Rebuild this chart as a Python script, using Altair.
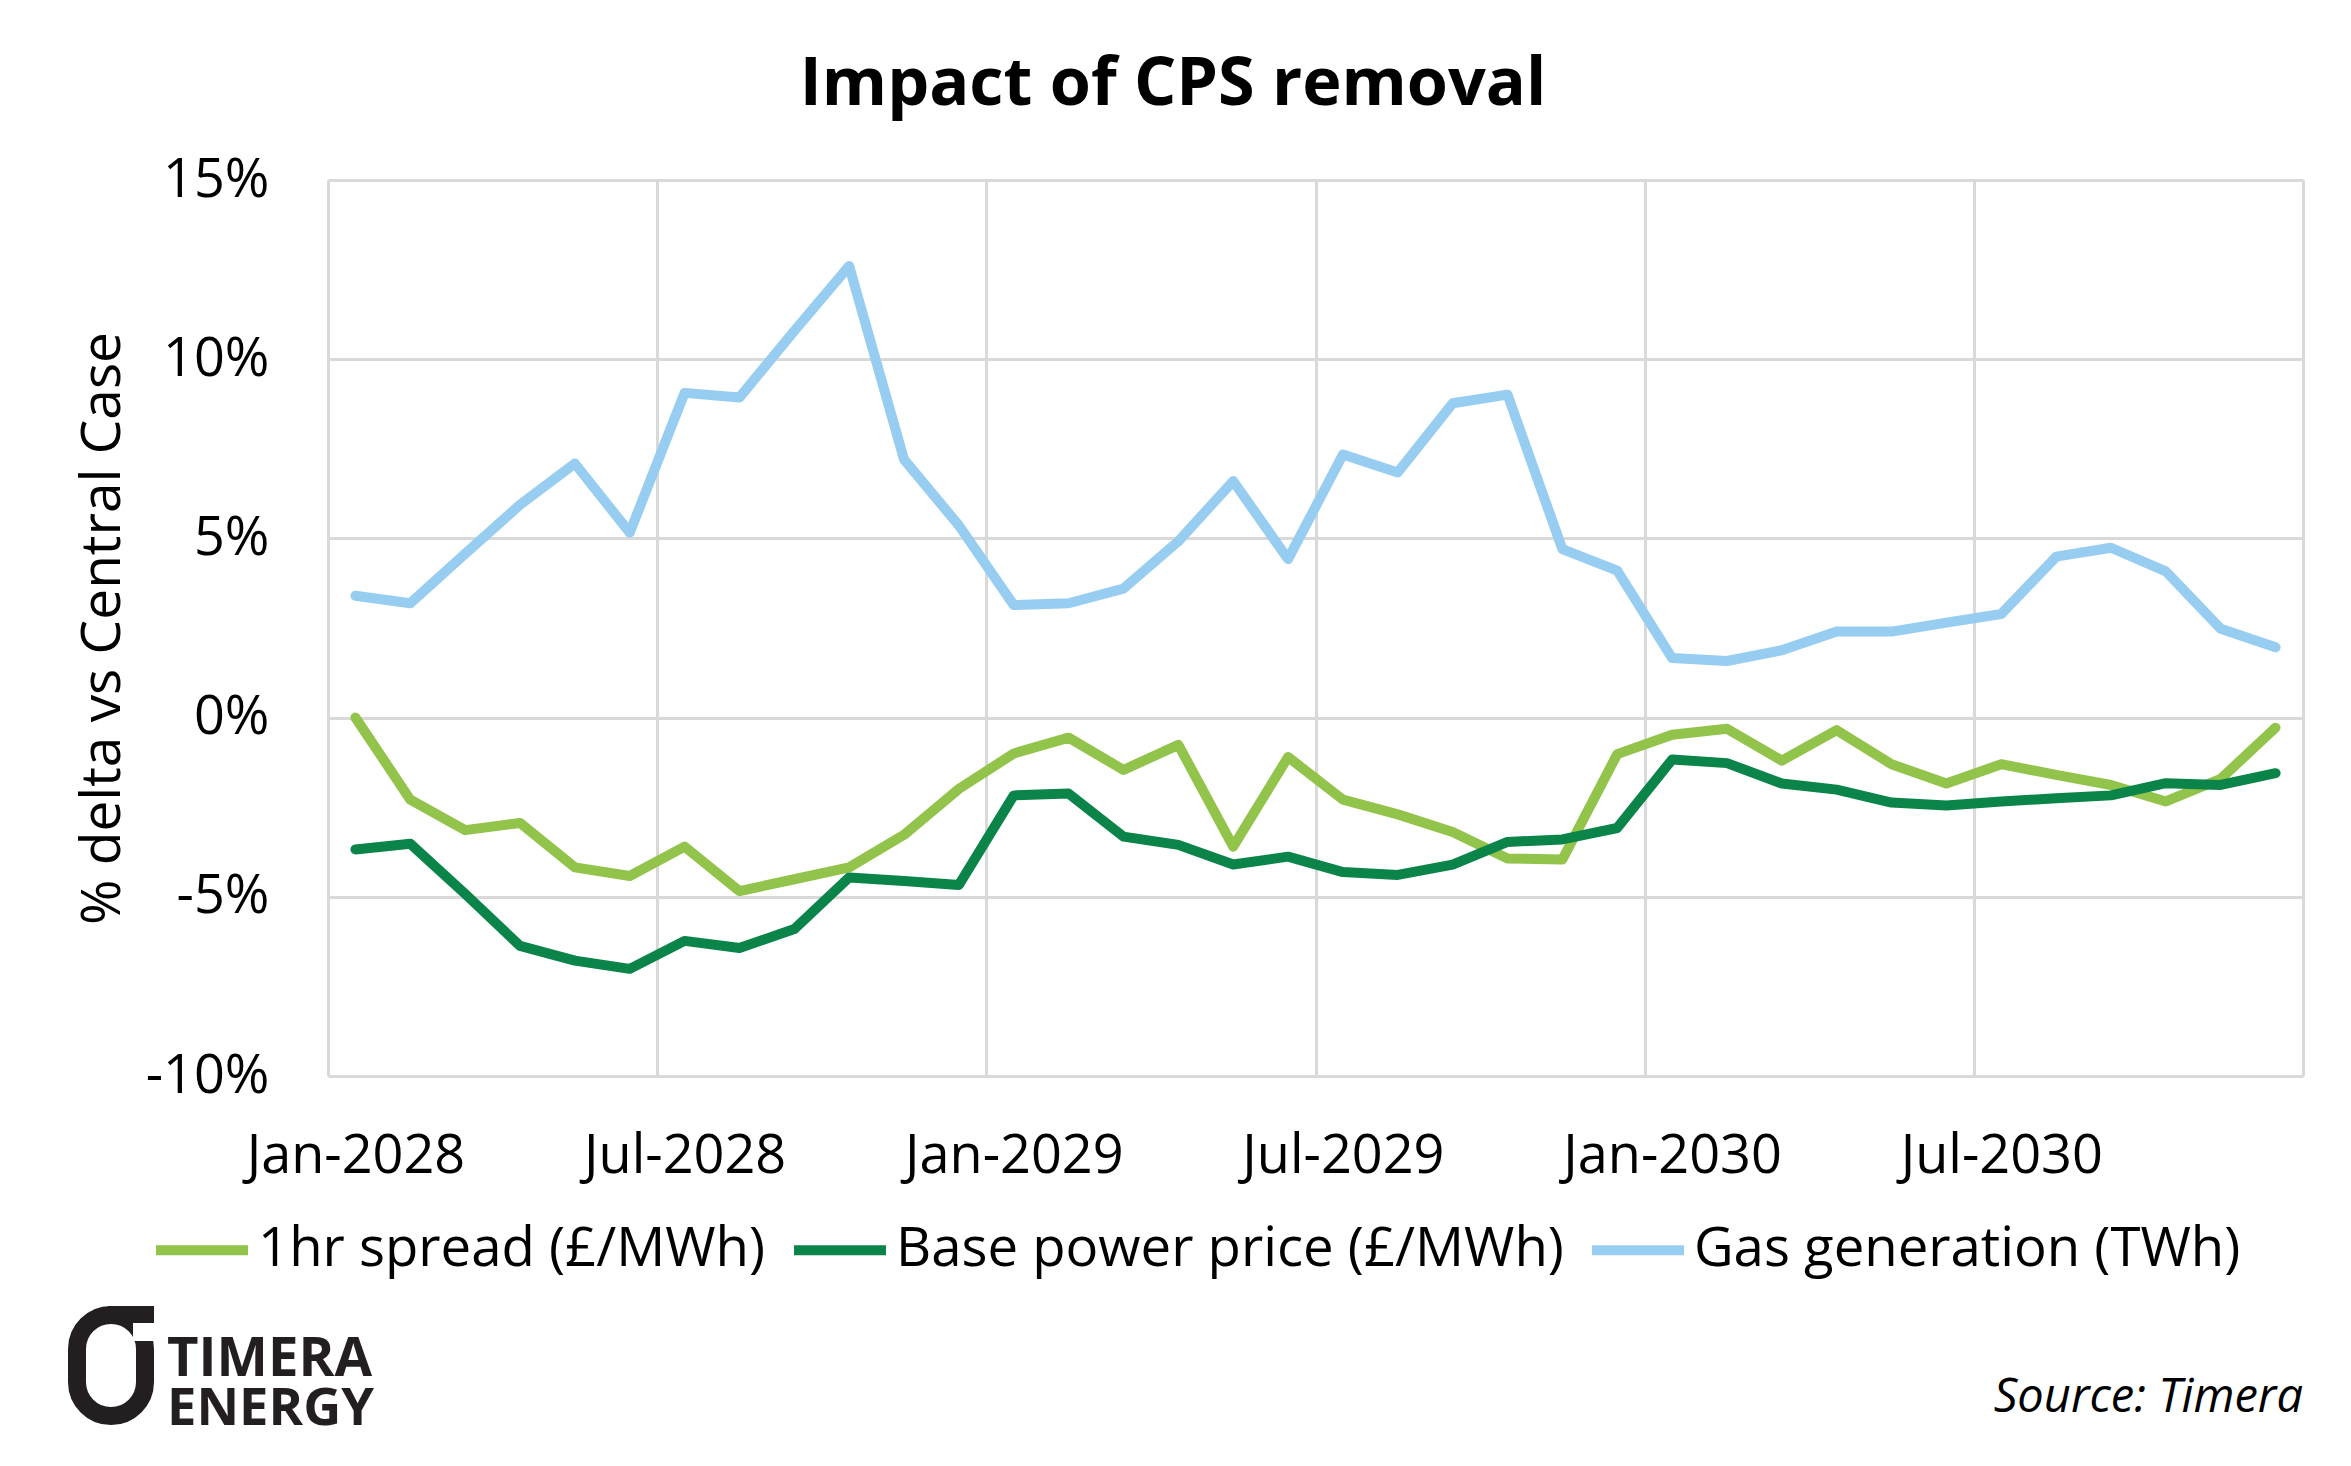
import json
import altair as alt
import pandas as pd

# ---------------- data ----------------
tick_labels = ["Jan-2028", "Jul-2028", "Jan-2029", "Jul-2029", "Jan-2030", "Jul-2030"]
month_names = ["Jan", "Feb", "Mar", "Apr", "May", "Jun", "Jul", "Aug", "Sep", "Oct", "Nov", "Dec"]
years = [2028, 2029, 2030]

series_names = ["1hr spread (£/MWh)", "Base power price (£/MWh)", "Gas generation (TWh)"]
series_colors = ["#92C34B", "#0A8448", "#97CDF0"]

spread = [0.0, -2.29, -3.14, -2.94, -4.18, -4.42, -3.60, -4.84, -4.51, -4.18, -3.27, -1.99,
          -1.00, -0.56, -1.46, -0.76, -3.60, -1.10, -2.29, -2.70, -3.19, -3.93, -3.96, -1.02,
          -0.48, -0.31, -1.20, -0.35, -1.30, -1.84, -1.30, -1.60, -1.88, -2.34, -1.71, -0.28]
base_price = [-3.68, -3.52, -4.92, -6.37, -6.78, -7.01, -6.23, -6.43, -5.90, -4.46, -4.56, -4.67,
              -2.17, -2.12, -3.32, -3.55, -4.10, -3.88, -4.31, -4.39, -4.10, -3.47, -3.40, -3.08,
              -1.17, -1.27, -1.84, -2.01, -2.37, -2.45, -2.34, -2.25, -2.17, -1.83, -1.88, -1.55]
gas_gen = [3.40, 3.19, 4.57, 5.94, 7.09, 5.16, 9.06, 8.93, 10.79, 12.60, 7.20, 5.36,
           3.14, 3.19, 3.60, 4.92, 6.60, 4.42, 7.34, 6.84, 8.77, 9.01, 4.70, 4.10,
           1.66, 1.58, 1.88, 2.40, 2.40, 2.65, 2.89, 4.49, 4.74, 4.08, 2.48, 1.96]

y_ticks = [-10, -5, 0, 5, 10, 15]

months = [f"{m}-{y}" for y in years for m in month_names]
rows = []
for name, vals in zip(series_names, [spread, base_price, gas_gen]):
    for i, v in enumerate(vals):
        rows.append({"idx": i, "month": months[i], "series": name, "value": v})
df = pd.DataFrame(rows)

n = len(months)
W, H = 1975, 896
FONT = "Open Sans"
INK = "#000000"
GRID = "#D9D9D9"

# category boundaries every 6 months (Excel "between tick marks")
boundaries = [k - 0.5 for k in range(0, n + 1, 6)]
label_expr = (f"datum.value < {n - 1} ? {json.dumps(tick_labels)}"
              f"[round((datum.value + 0.5) / 6)] : ''")

lines = alt.Chart(df).mark_line(
    strokeWidth=10, strokeCap="round", strokeJoin="round"
).encode(
    x=alt.X("idx:Q",
            scale=alt.Scale(domain=[-0.5, n - 0.5], nice=False, zero=False),
            axis=alt.Axis(values=boundaries, labelExpr=label_expr,
                          labelOffset=W / n / 2, grid=True, gridColor=GRID, gridWidth=3,
                          ticks=False, tickSize=0, domain=False, labelPadding=53,
                          labelFont=FONT, labelFontSize=54, labelColor=INK, labelLimit=500,
                          labelAngle=0, labelOverlap=False, labelBound=False, labelFlush=False,
                          title=None)),
    y=alt.Y("value:Q",
            scale=alt.Scale(domain=[-10, 15], nice=False, zero=False),
            axis=alt.Axis(values=y_ticks, labelExpr="datum.value + '%'",
                          grid=True, gridColor=GRID, gridWidth=3,
                          ticks=False, tickSize=0, domain=False, labelPadding=59,
                          labelFont=FONT, labelFontSize=54, labelColor=INK, labelLimit=500,
                          labelOverlap=False, labelBound=False, labelFlush=False,
                          title="% delta vs Central Case", titleFont=FONT, titleFontSize=55,
                          titleFontWeight="normal", titleColor=INK, titleX=-209, titleY=H / 2,
                          titleAngle=-90, titleAlign="center", titleBaseline="alphabetic",
                          titleLimit=2000)),
    color=alt.Color("series:N",
                    scale=alt.Scale(domain=series_names, range=series_colors),
                    sort=series_names,
                    legend=alt.Legend(orient="none", legendX=-177, legendY=1019,
                                      direction="horizontal", columns=3, title=None,
                                      symbolType="stroke", symbolSize=92 * 92,
                                      symbolStrokeWidth=10, labelFont=FONT, labelFontSize=54.5,
                                      labelColor=INK, labelLimit=1500, labelOffset=5,
                                      columnPadding=8, padding=0)),
    detail="series:N",
)

title_df = pd.DataFrame({"t": ["Impact of CPS removal"]})
title = alt.Chart(title_df).mark_text(
    font=FONT, fontSize=66.5, fontWeight="bold", color=INK, align="center", baseline="alphabetic"
).encode(x=alt.value(845), y=alt.value(-75), text="t:N")

source_df = pd.DataFrame({"t": ["Source: Timera"]})
source = alt.Chart(source_df).mark_text(
    font=FONT, fontSize=47, fontStyle="italic", color=INK, align="right", baseline="alphabetic"
).encode(x=alt.value(W), y=alt.value(1232), text="t:N")

LOGO = "#231F20"
logo_df = pd.DataFrame({"t": ["TIMERA", "ENERGY"], "yy": [1196, 1245], "fs": [54.5, 52.5]})
logo_text = alt.Chart(logo_df).mark_text(
    font=FONT, fontWeight="bold", color=LOGO, align="left", baseline="alphabetic"
).encode(x=alt.value(-161), y=alt.Y("yy:Q", scale=None), text="t:N",
         size=alt.Size("fs:Q", scale=None, legend=None))

one = pd.DataFrame({"a": [0]})
logo_ring = alt.Chart(one).mark_rect(
    fillOpacity=0, stroke=LOGO, strokeWidth=18, cornerRadius=34
).encode(x=alt.value(-251), x2=alt.value(-183), y=alt.value(1135), y2=alt.value(1236))
logo_gap = alt.Chart(one).mark_rect(fill="white").encode(
    x=alt.value(-195), x2=alt.value(-170), y=alt.value(1143), y2=alt.value(1161))
logo_bar = alt.Chart(one).mark_rect(fill=LOGO).encode(
    x=alt.value(-220), x2=alt.value(-174), y=alt.value(1126), y2=alt.value(1143))

chart = alt.layer(lines, title, source, logo_ring, logo_gap, logo_bar, logo_text).properties(
    width=W, height=H,
    padding={"left": 320, "top": 172, "right": 30, "bottom": 380},
    autosize=alt.AutoSizeParams(type="none"),
    background="white",
).configure_view(strokeWidth=0)

chart.save("out.html", embed_options={"renderer": "svg", "actions": False})
